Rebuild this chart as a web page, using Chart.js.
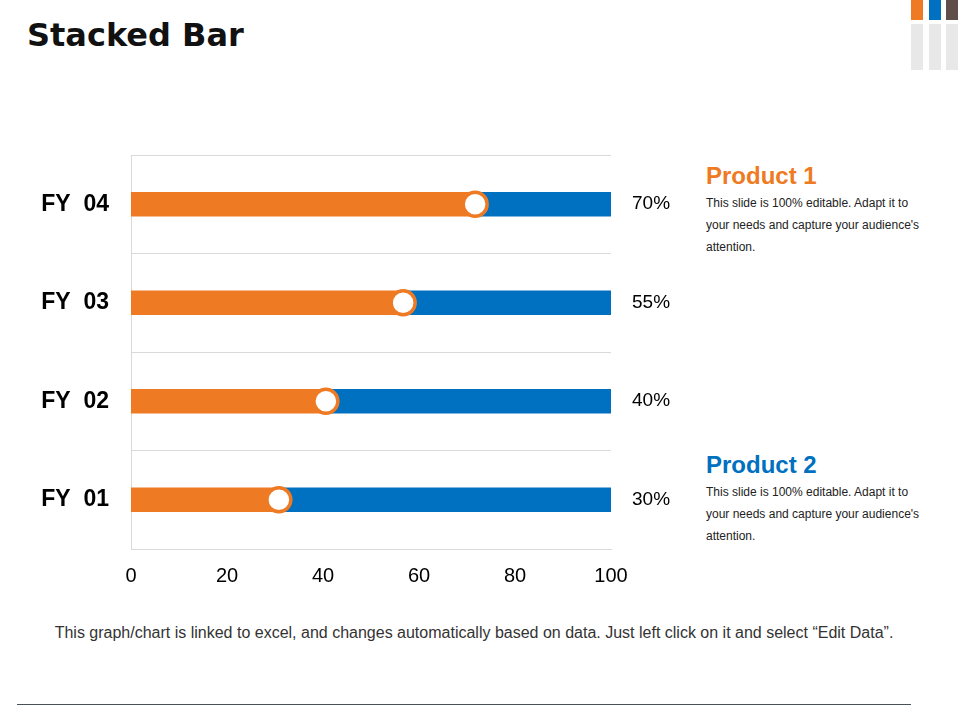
<!DOCTYPE html>
<html>
<head>
<meta charset="utf-8">
<script src="https://cdn.jsdelivr.net/npm/chart.js@4"></script>
<style>
  body { margin: 0; width: 960px; height: 720px; position: relative; background: #fff; overflow: hidden; font-family: "Liberation Sans", Arial, sans-serif; }
  .title { position: absolute; left: 27px; top: 16px; font-family: "DejaVu Sans", sans-serif; font-weight: bold; font-size: 32px; color: #111; }
  .deco { position: absolute; width: 12px; }
  .chart-box { position: absolute; left: 0; top: 140px; width: 690px; height: 460px; }
  .prod { position: absolute; left: 706px; width: 218px; }
  .prod h3 { margin: 0; font-size: 24px; font-weight: bold; line-height: 28px; }
  .prod p { margin: 2px 0 0 0; font-size: 12px; line-height: 22px; color: #222; }
  .footer { position: absolute; left: 0; width: 948px; top: 624px; text-align: center; font-size: 16px; color: #333; }
  .rule { position: absolute; left: 17px; width: 894px; top: 704px; height: 1px; background: #4a5058; }
</style>
</head>
<body>
<div class="title">Stacked Bar</div>
<div class="deco" style="left:911px;top:0;height:20px;background:#ee7b23"></div>
<div class="deco" style="left:929px;top:0;height:20px;background:#0070c0"></div>
<div class="deco" style="left:946px;top:0;height:20px;background:#5f4e4a"></div>
<div class="deco" style="left:911px;top:24px;height:46px;background:#e8e8e8"></div>
<div class="deco" style="left:929px;top:24px;height:46px;background:#e8e8e8"></div>
<div class="deco" style="left:946px;top:24px;height:46px;background:#e8e8e8"></div>

<div class="chart-box"><canvas id="myChart"></canvas></div>

<div class="prod" style="top:162px">
  <h3 style="color:#ee7b23">Product 1</h3>
  <p>This slide is 100% editable. Adapt it to your needs and capture your audience's attention.</p>
</div>
<div class="prod" style="top:451px">
  <h3 style="color:#0070c0">Product 2</h3>
  <p>This slide is 100% editable. Adapt it to your needs and capture your audience's attention.</p>
</div>

<div class="footer">This graph/chart is linked to excel, and changes automatically based on data. Just left click on it and select “Edit Data”.</div>
<div class="rule"></div>

<script>
const categories = ["FY  04", "FY  03", "FY  02", "FY  01"];
const product1 = [71.7, 56.7, 40.6, 30.8];
const product2 = [28.3, 43.3, 59.4, 69.2];
const pctLabels = ["70%", "55%", "40%", "30%"];
const xTicks = [0, 20, 40, 60, 80, 100];

const orange = "#ee7b23";
const blue = "#0070c0";
const gridGray = "#d9d9d9";

// fixed axis widths so the plot sits where the slide has it
function fixWidth(w) {
  return (scale) => {
    scale.width = w;
    scale.paddingTop = 0;
    scale.paddingBottom = 0;
  };
}

const ctx = document.getElementById("myChart");
new Chart(ctx, {
  type: "bar",
  data: {
    labels: categories,
    datasets: [
      {
        label: "Marker",
        type: "line",
        data: product1,
        showLine: false,
        pointRadius: 12,
        pointHoverRadius: 12,
        pointBorderWidth: 3.5,
        pointBackgroundColor: "#ffffff",
        pointBorderColor: orange,
        stack: "marker",
        order: 0,
      },
      {
        label: "Product 1",
        data: product1,
        backgroundColor: orange,
        barThickness: 24,
        stack: "bars",
        order: 1,
      },
      {
        label: "Product 2",
        data: product2,
        backgroundColor: blue,
        barThickness: 24,
        stack: "bars",
        order: 1,
      },
    ],
  },
  options: {
    indexAxis: "y",
    responsive: true,
    maintainAspectRatio: false,
    animation: false,
    layout: { autoPadding: false, padding: { top: 15, left: 0, right: 0, bottom: 0 } },
    plugins: {
      legend: { display: false },
      tooltip: { enabled: false },
    },
    scales: {
      x: {
        stacked: true,
        min: 0,
        max: 100,
        afterBuildTicks: (scale) => {
          scale.ticks = xTicks.map((v) => ({ value: v }));
        },
        afterFit: (scale) => {
          scale.height = 51;
        },
        grid: { display: false, drawTicks: false },
        border: { display: true, color: gridGray },
        ticks: {
          padding: 15,
          color: "#000",
          font: { family: "Liberation Sans", size: 20 },
        },
      },
      y: {
        stacked: true,
        afterFit: fixWidth(131),
        grid: { color: gridGray, offset: true, drawTicks: false },
        border: { display: true, color: gridGray },
        ticks: {
          padding: 22,
          color: "#000",
          font: { family: "Liberation Sans", size: 23, weight: "bold" },
        },
      },
      y2: {
        type: "category",
        labels: pctLabels,
        position: "right",
        offset: true,
        afterFit: fixWidth(79),
        grid: { display: false, drawTicks: false },
        border: { display: false },
        ticks: {
          padding: 21,
          color: "#000",
          font: { family: "Liberation Sans", size: 19 },
        },
      },
    },
  },
});
</script>
</body>
</html>
